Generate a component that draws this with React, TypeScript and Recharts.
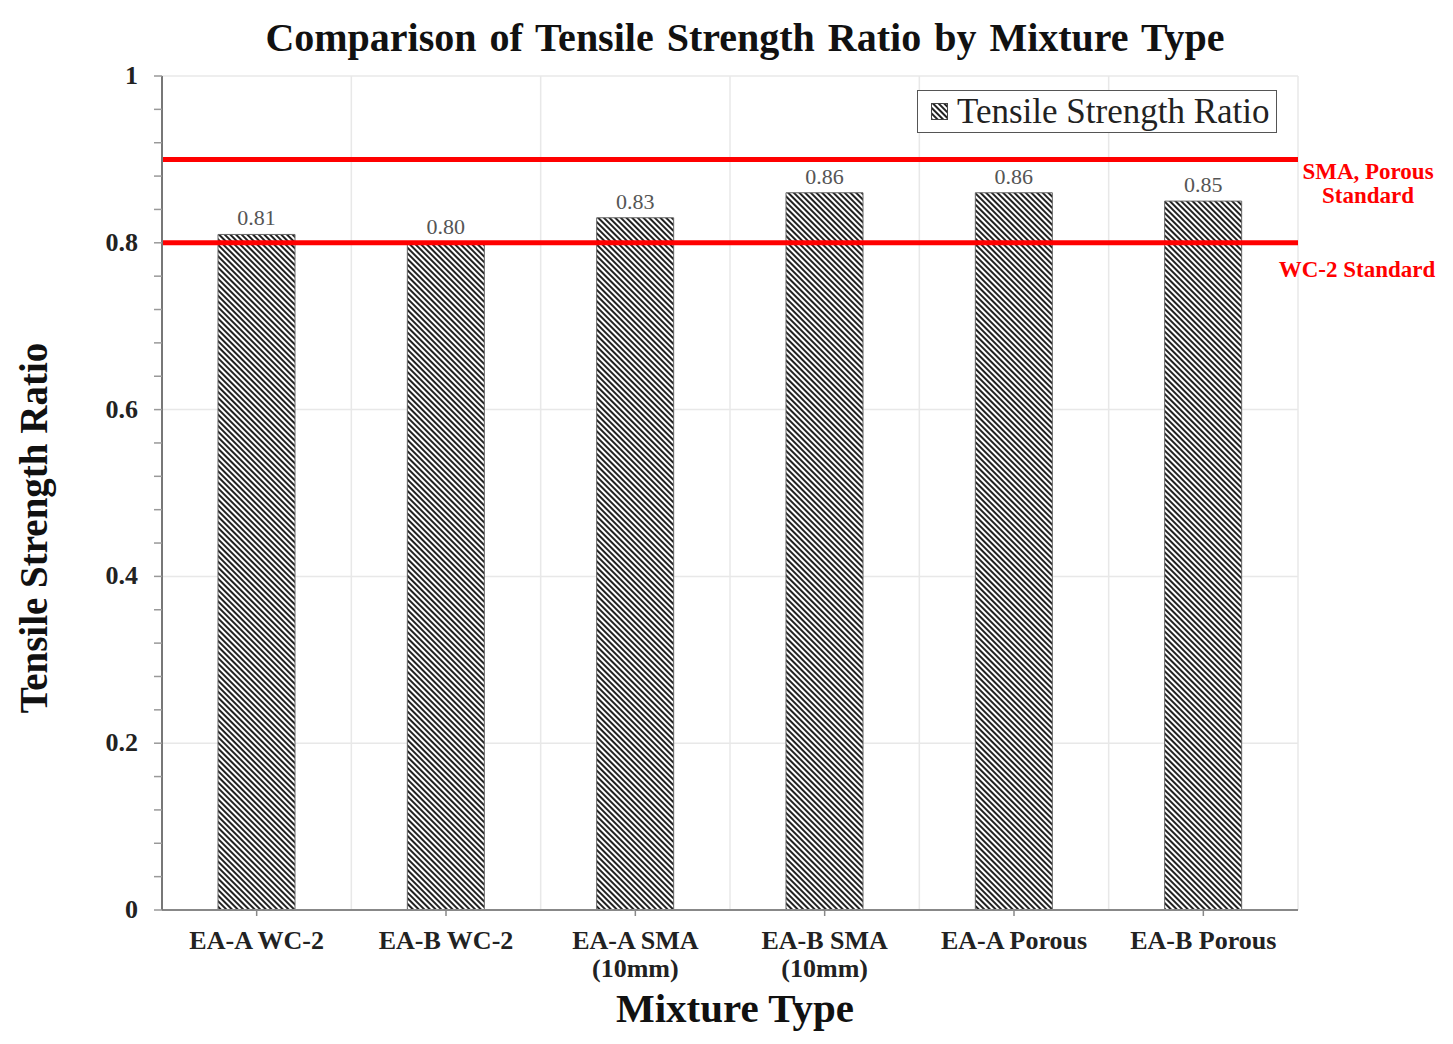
import React from "react";
import {
  BarChart,
  Bar,
  XAxis,
  YAxis,
  CartesianGrid,
  ReferenceLine,
  LabelList,
} from "recharts";

const categories = [
  "EA-A WC-2",
  "EA-B WC-2",
  "EA-A SMA\n(10mm)",
  "EA-B SMA\n(10mm)",
  "EA-A Porous",
  "EA-B Porous",
];
const ratios = [0.81, 0.8, 0.83, 0.86, 0.86, 0.85];
const yTicks = [
  0, 0.04, 0.08, 0.12, 0.16, 0.2, 0.24, 0.28, 0.32, 0.36, 0.4, 0.44, 0.48,
  0.52, 0.56, 0.6, 0.64, 0.68, 0.72, 0.76, 0.8, 0.84, 0.88, 0.92, 0.96, 1,
];
const yLabelTicks = [0, 0.2, 0.4, 0.6, 0.8, 1];
const smaPorousStandard = 0.9;
const wc2Standard = 0.8;

const data = categories.map((name, i) => ({ name, ratio: ratios[i] }));

const SERIF = "'Liberation Serif', 'Times New Roman', serif";

const XTick = (props: any) => {
  const { x, y, payload } = props;
  const lines = String(payload.value).split("\n");
  return (
    <text
      x={x}
      y={y}
      textAnchor="middle"
      fontFamily={SERIF}
      fontWeight="bold"
      fontSize={26}
      fill="#222"
    >
      {lines.map((l, i) => (
        <tspan key={i} x={x} dy={i === 0 ? 31 : 28}>
          {l}
        </tspan>
      ))}
    </text>
  );
};

const YTick = (props: any) => {
  const { x, y, payload } = props;
  const v = payload.value;
  const show = yLabelTicks.some((t) => Math.abs(t - v) < 1e-6);
  if (!show) return null;
  return (
    <text
      x={x}
      y={y}
      dy={8}
      textAnchor="end"
      fontFamily={SERIF}
      fontWeight="bold"
      fontSize={26}
      fill="#222"
    >
      {String(Math.round(v * 10) / 10)}
    </text>
  );
};

const LegendBox = () => (
  <div
    style={{
      position: "absolute",
      left: 909,
      top: 82,
      border: "1.5px solid #555",
      height: 43,
      width: 360,
      boxSizing: "border-box",
      display: "flex",
      alignItems: "center",
      paddingLeft: 13,
      fontFamily: SERIF,
      fontSize: 35,
      color: "#222",
      background: "#fff",
      whiteSpace: "nowrap",
    }}
  >
    <svg width={17} height={17} style={{ marginRight: 9 }}>
      <rect x={0.5} y={0.5} width={16} height={16} fill="url(#hatch)" stroke="#444" />
    </svg>
    Tensile Strength Ratio
  </div>
);

export default function App() {
  return (
    <div style={{ position: "relative", width: 1440, height: 1030, background: "#fff" }}>
      <BarChart
        width={1440}
        height={1030}
        data={data}
        margin={{ top: 68, right: 150, bottom: 68, left: 0 }}
        style={{ position: "absolute", left: 0, top: 0 }}
      >
        <defs>
          <pattern
            id="hatch"
            patternUnits="userSpaceOnUse"
            width={4}
            height={4}
            patternTransform="rotate(-45)"
          >
            <rect x={0} y={0} width={4} height={4} fill="#fff" />
            <rect x={0} y={0} width={2} height={4} fill="#222" />
          </pattern>
        </defs>
        <CartesianGrid
          stroke="#e8e8e8"
          strokeWidth={1.5}
          horizontalValues={[0.2, 0.4, 0.6, 0.8, 1]}
          verticalCoordinatesGenerator={({ offset }: any) =>
            categories.map(
              (_, i) => offset.left + (offset.width * (i + 1)) / categories.length
            )
          }
        />
        <XAxis
          dataKey="name"
          height={60}
          interval={0}
          tickSize={6}
          tickMargin={2}
          tick={<XTick />}
          axisLine={{ stroke: "#888", strokeWidth: 2 }}
          tickLine={{ stroke: "#888", strokeWidth: 1.5 }}
        />
        <YAxis
          width={154}
          domain={[0, 1]}
          ticks={yTicks}
          interval={0}
          tickSize={8}
          tickMargin={16}
          tick={<YTick />}
          axisLine={{ stroke: "#777", strokeWidth: 2 }}
          tickLine={{ stroke: "#999", strokeWidth: 1.5 }}
        />
        <Bar
          dataKey="ratio"
          name="Tensile Strength Ratio"
          barSize={77}
          fill="url(#hatch)"
          stroke="#666"
          strokeWidth={1}
          isAnimationActive={false}
        >
          <LabelList
            dataKey="ratio"
            position="top"
            offset={9}
            formatter={(v: any) => Number(v).toFixed(2)}
            style={{ fontFamily: SERIF, fontSize: 22, fill: "#555" }}
          />
        </Bar>
        <ReferenceLine
          y={smaPorousStandard}
          stroke="#ff0000"
          strokeWidth={5}
          ifOverflow="visible"
        />
        <ReferenceLine
          y={wc2Standard}
          stroke="#ff0000"
          strokeWidth={5}
          ifOverflow="visible"
        />
      </BarChart>
      <div
        style={{
          position: "absolute",
          left: 737,
          top: 29,
          transform: "translate(-50%, -50%)",
          whiteSpace: "nowrap",
          fontFamily: SERIF,
          fontWeight: "bold",
          fontSize: 40,
          wordSpacing: 3,
          color: "#111",
        }}
      >
        Comparison of Tensile Strength Ratio by Mixture Type
      </div>
      <div
        style={{
          position: "absolute",
          left: 25,
          top: 520,
          transform: "translate(-50%, -50%) rotate(-90deg)",
          whiteSpace: "nowrap",
          fontFamily: SERIF,
          fontWeight: "bold",
          fontSize: 39,
          color: "#111",
        }}
      >
        Tensile Strength Ratio
      </div>
      <div
        style={{
          position: "absolute",
          left: 727,
          top: 1000,
          transform: "translate(-50%, -50%)",
          whiteSpace: "nowrap",
          fontFamily: SERIF,
          fontWeight: "bold",
          fontSize: 41,
          color: "#111",
        }}
      >
        Mixture Type
      </div>
      <div
        style={{
          position: "absolute",
          left: 1360,
          top: 176,
          transform: "translate(-50%, -50%)",
          textAlign: "center",
          whiteSpace: "nowrap",
          fontFamily: SERIF,
          fontWeight: "bold",
          fontSize: 23,
          lineHeight: "24px",
          color: "#ff0000",
        }}
      >
        SMA, Porous
        <br />
        Standard
      </div>
      <div
        style={{
          position: "absolute",
          left: 1349,
          top: 262,
          transform: "translate(-50%, -50%)",
          whiteSpace: "nowrap",
          fontFamily: SERIF,
          fontWeight: "bold",
          fontSize: 23,
          color: "#ff0000",
        }}
      >
        WC-2 Standard
      </div>
      <LegendBox />
    </div>
  );
}
